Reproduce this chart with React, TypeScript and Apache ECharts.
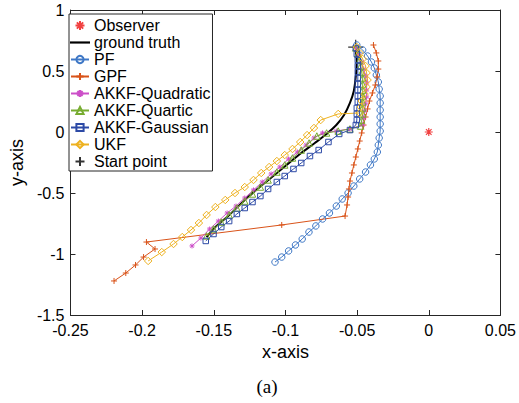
import React, { useEffect, useRef } from "react";
import * as echarts from "echarts";

// ---- data ----
const observer = [[0, 0]];
const startPoint = [[-0.051, 0.695]];

const groundTruth = [
  [-0.0509, 0.689], [-0.0502, 0.582], [-0.0509, 0.459], [-0.0523, 0.336], [-0.055, 0.238],
  [-0.0591, 0.139], [-0.0645, 0.057], [-0.0713, -0.016], [-0.0795, -0.09], [-0.089, -0.172],
  [-0.0992, -0.27], [-0.1094, -0.369], [-0.1196, -0.467], [-0.1298, -0.574], [-0.14, -0.689],
  [-0.1489, -0.779], [-0.155, -0.861],
];

const pf = [
  [-0.0502, 0.713], [-0.0461, 0.672], [-0.0427, 0.623], [-0.04, 0.574], [-0.038, 0.525],
  [-0.0366, 0.467], [-0.0352, 0.41], [-0.0346, 0.352], [-0.0339, 0.295], [-0.0339, 0.238],
  [-0.0339, 0.18], [-0.0339, 0.123], [-0.0339, 0.066], [-0.0339, 0.008], [-0.0346, -0.049],
  [-0.0352, -0.107], [-0.0359, -0.164], [-0.038, -0.221], [-0.0407, -0.27], [-0.0441, -0.328],
  [-0.0482, -0.385], [-0.0523, -0.443], [-0.0563, -0.5], [-0.0604, -0.549], [-0.0645, -0.607],
  [-0.0693, -0.664], [-0.0741, -0.713], [-0.0788, -0.77], [-0.0836, -0.82], [-0.0883, -0.877],
  [-0.093, -0.926], [-0.0978, -0.975], [-0.1026, -1.025], [-0.1073, -1.066],
];

const gpf = [
  [-0.0386, 0.713], [-0.0366, 0.648], [-0.0352, 0.582], [-0.0352, 0.516], [-0.036, 0.451],
  [-0.0373, 0.385], [-0.0393, 0.32], [-0.0414, 0.254], [-0.0427, 0.189], [-0.0441, 0.123],
  [-0.0455, 0.057], [-0.0468, -0.008], [-0.0482, -0.074], [-0.0495, -0.139], [-0.0509, -0.205],
  [-0.0523, -0.27], [-0.0536, -0.336], [-0.055, -0.402], [-0.0557, -0.467], [-0.0563, -0.533],
  [-0.057, -0.598], [-0.0584, -0.689], [-0.1026, -0.762], [-0.197, -0.902], [-0.191, -0.959],
  [-0.199, -1.025], [-0.2046, -1.09], [-0.2114, -1.156], [-0.2196, -1.221],
];

const akkfQuadratic = [
  [-0.0509, 0.689], [-0.0489, 0.631], [-0.0468, 0.574], [-0.0454, 0.516], [-0.0441, 0.459],
  [-0.0434, 0.402], [-0.0434, 0.344], [-0.0434, 0.287], [-0.0441, 0.23], [-0.0448, 0.172],
  [-0.0454, 0.115], [-0.0461, 0.057], [-0.055, 0.025], [-0.0645, 0.008], [-0.0741, -0.008],
  [-0.0801, -0.049], [-0.0856, -0.107], [-0.0917, -0.164], [-0.0978, -0.221], [-0.1039, -0.287],
  [-0.11, -0.344], [-0.1162, -0.41], [-0.1223, -0.475], [-0.1284, -0.541], [-0.1345, -0.607],
  [-0.1407, -0.664], [-0.1468, -0.73], [-0.1529, -0.795], [-0.159, -0.869], [-0.1652, -0.934],
];

const akkfQuartic = [
  [-0.0509, 0.689], [-0.0495, 0.639], [-0.0482, 0.59], [-0.0475, 0.541], [-0.0468, 0.492],
  [-0.0461, 0.443], [-0.0461, 0.393], [-0.0461, 0.344], [-0.0461, 0.295], [-0.0461, 0.246],
  [-0.0461, 0.197], [-0.0461, 0.148], [-0.0468, 0.098], [-0.0475, 0.049], [-0.055, 0.025],
  [-0.0632, 0.008], [-0.0713, -0.008], [-0.0781, -0.033], [-0.0835, -0.09], [-0.089, -0.148],
  [-0.0951, -0.213], [-0.1005, -0.27], [-0.106, -0.328], [-0.1121, -0.393], [-0.1175, -0.451],
  [-0.123, -0.508], [-0.1284, -0.566], [-0.1339, -0.623], [-0.1393, -0.68], [-0.1448, -0.738],
  [-0.1502, -0.795], [-0.155, -0.852],
];

const akkfGaussian = [
  [-0.0509, 0.689], [-0.0502, 0.639], [-0.0495, 0.59], [-0.0495, 0.541], [-0.0495, 0.492],
  [-0.0495, 0.443], [-0.0495, 0.393], [-0.0495, 0.344], [-0.0495, 0.295], [-0.0495, 0.246],
  [-0.0502, 0.197], [-0.0502, 0.148], [-0.0502, 0.098], [-0.0509, 0.057], [-0.055, 0.016],
  [-0.0625, -0.016], [-0.07, -0.082], [-0.0768, -0.148], [-0.0829, -0.197], [-0.089, -0.254],
  [-0.0944, -0.303], [-0.1005, -0.361], [-0.106, -0.41], [-0.1121, -0.467], [-0.1175, -0.525],
  [-0.123, -0.574], [-0.1284, -0.623], [-0.1339, -0.672], [-0.1393, -0.73], [-0.1448, -0.779],
  [-0.1502, -0.836], [-0.1556, -0.893],
];

const ukf = [
  [-0.0502, 0.697], [-0.0482, 0.648], [-0.0461, 0.598], [-0.0441, 0.541], [-0.0434, 0.484],
  [-0.0427, 0.426], [-0.0434, 0.369], [-0.0448, 0.311], [-0.0468, 0.254], [-0.0475, 0.205],
  [-0.0482, 0.156], [-0.0632, 0.148], [-0.0754, 0.098], [-0.0801, 0.033], [-0.0849, -0.025],
  [-0.0897, -0.082], [-0.0951, -0.139], [-0.1005, -0.189], [-0.106, -0.238], [-0.1114, -0.287],
  [-0.1169, -0.336], [-0.1223, -0.393], [-0.1284, -0.451], [-0.1352, -0.5], [-0.142, -0.557],
  [-0.1489, -0.615], [-0.155, -0.68], [-0.1604, -0.746], [-0.1659, -0.803], [-0.172, -0.861],
  [-0.1781, -0.918], [-0.1863, -0.984], [-0.1958, -1.057],
];

const xRange = { min: -0.25, max: 0.05, interval: 0.05 };
const yRange = { min: -1.5, max: 1, interval: 0.5 };
const legendNames = [
  "Observer", "ground truth", "PF", "GPF", "AKKF-Quadratic",
  "AKKF-Quartic", "AKKF-Gaussian", "UKF", "Start point",
];

const FONT = "'Liberation Sans', Arial, Helvetica, sans-serif";
const AXIS = "#262626";
const ASTERISK = "path://M5,0 L5,10 M0,5 L10,5 M1.5,1.5 L8.5,8.5 M8.5,1.5 L1.5,8.5";
const PLUS = "path://M5,0 L5,10 M0,5 L10,5";
const HOLLOW = "rgba(255,255,255,0)";

function lineSeries(name: string, data: number[][], color: string, symbol: string, size: number) {
  return {
    type: "line",
    name,
    data,
    symbol,
    symbolSize: size,
    showSymbol: true,
    showAllSymbol: true,
    color,
    lineStyle: { color, width: 1 },
    itemStyle: { color: HOLLOW, borderColor: color, borderWidth: 1 },
    emphasis: { disabled: true },
    silent: true,
  };
}

export default function App() {
  const ref = useRef<HTMLDivElement>(null);
  useEffect(() => {
    if (!ref.current) return;
    const chart = echarts.init(ref.current, undefined, { renderer: "svg" });
    const baseAxis = {
      type: "value",
      splitLine: { show: false },
      axisLine: { show: true, onZero: false, lineStyle: { color: AXIS, width: 1 } },
      axisTick: { show: true, inside: true, length: 5, lineStyle: { color: AXIS } },
    };
    chart.setOption({
      animation: false,
      backgroundColor: "#fff",
      grid: { left: 63, right: 15, top: 10, bottom: 88, containLabel: false },
      xAxis: [
        {
          ...baseAxis, position: "bottom", ...xRange,
          axisLabel: { fontSize: 16, color: "#000", fontFamily: FONT, margin: 7, hideOverlap: false },
          name: "x-axis", nameLocation: "middle", nameGap: 28,
          nameTextStyle: { fontSize: 18, color: "#000", fontFamily: FONT },
        },
        { ...baseAxis, position: "top", ...xRange, axisLabel: { show: false } },
      ],
      yAxis: [
        {
          ...baseAxis, position: "left", ...yRange,
          axisLabel: { fontSize: 16, color: "#000", fontFamily: FONT, margin: 6, hideOverlap: false },
          name: "y-axis", nameLocation: "middle", nameGap: 37,
          nameTextStyle: { fontSize: 18, color: "#000", fontFamily: FONT },
        },
        { ...baseAxis, position: "right", ...yRange, axisLabel: { show: false } },
      ],
      legend: {
        orient: "vertical",
        left: 69,
        top: 14,
        padding: [3, 2, 1, 1],
        itemGap: 0,
        itemWidth: 18,
        itemHeight: 9,
        selectedMode: false,
        backgroundColor: "#fff",
        borderColor: AXIS,
        borderWidth: 1,
        itemStyle: { color: HOLLOW },
        textStyle: { fontSize: 16, fontFamily: FONT, color: "#000", lineHeight: 17 },
        data: legendNames.map((n) =>
          n === "ground truth" ? { name: n, icon: "path://M0,0 L20,0 L20,0.2 L0,0.2 Z" } : n
        ),
      },
      graphic: [
        {
          type: "text",
          x: 267,
          y: 386,
          style: {
            text: "(a)",
            font: "19px 'Liberation Serif', 'Times New Roman', serif",
            fill: "#000",
            align: "center",
            verticalAlign: "middle",
            textAlign: "center",
            textVerticalAlign: "middle",
          },
        },
      ],
      series: [
        {
          type: "scatter",
          name: "Observer",
          data: observer,
          symbol: ASTERISK,
          symbolSize: 8,
          itemStyle: { color: "#ee1111", borderColor: "#ee1111", borderWidth: 1.2 },
          silent: true,
        },
        {
          type: "line",
          name: "ground truth",
          data: groundTruth,
          smooth: 0.3,
          symbol: "none",
          lineStyle: { color: "#000", width: 2 },
          itemStyle: { color: "#000", borderColor: "#000", borderWidth: 1.8 },
          silent: true,
        },
        lineSeries("PF", pf, "#3f78c6", "circle", 6.5),
        lineSeries("GPF", gpf, "#d95319", PLUS, 6),
        lineSeries("AKKF-Quadratic", akkfQuadratic, "#cc4fc8", ASTERISK, 5),
        lineSeries("AKKF-Quartic", akkfQuartic, "#77ac30", "triangle", 6.5),
        lineSeries("AKKF-Gaussian", akkfGaussian, "#2d4aa6", "rect", 5.5),
        lineSeries("UKF", ukf, "#edb120", "diamond", 7.5),
        {
          type: "scatter",
          name: "Start point",
          data: startPoint,
          symbol: PLUS,
          symbolSize: 15,
          itemStyle: { color: "#000", borderColor: "#000", borderWidth: 1.2 },
          silent: true,
        },
      ],
    });
    return () => chart.dispose();
  }, []);
  return (
    <div
      ref={ref}
      style={{ position: "absolute", left: 0, top: 0, width: 519, height: 403 }}
    />
  );
}
